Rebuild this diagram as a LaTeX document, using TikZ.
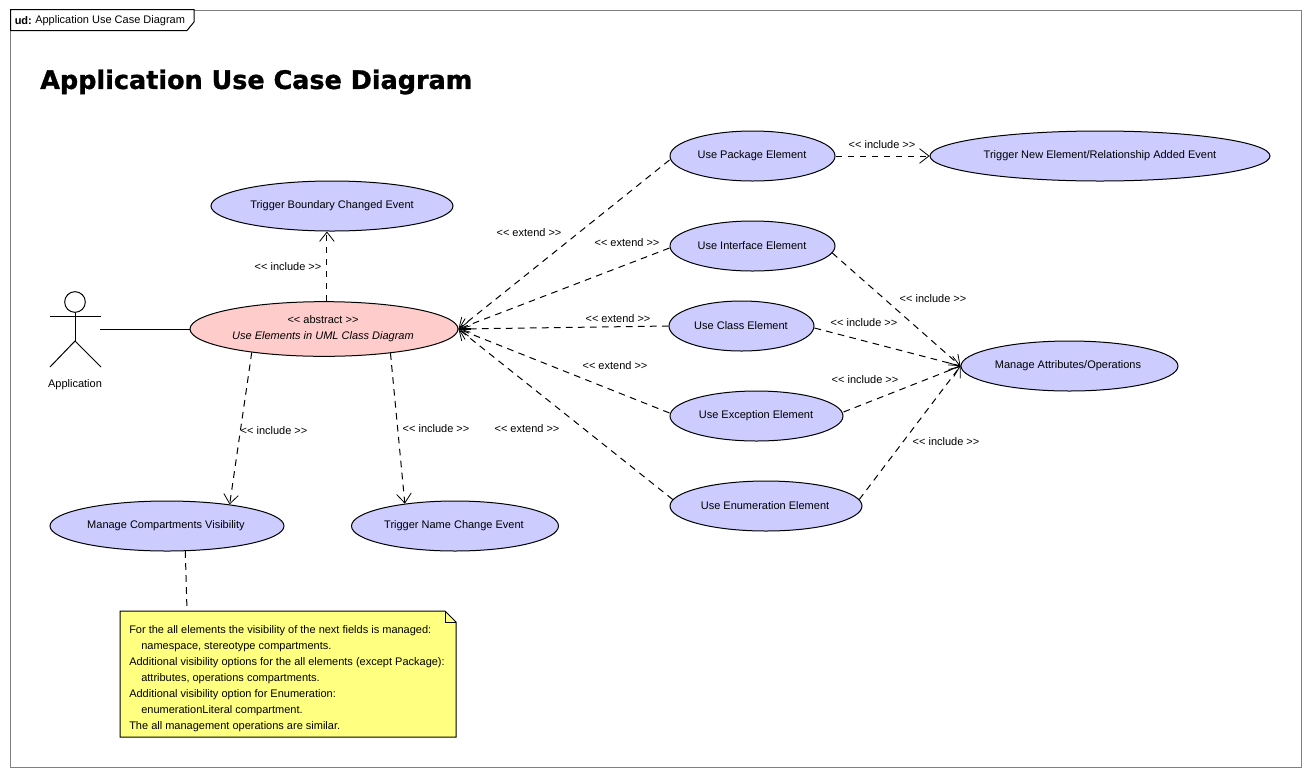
\documentclass[tikz,border=0pt]{standalone}
\usepackage{fontspec}
\usetikzlibrary{shapes.geometric,arrows.meta}
\newfontfamily\uifont{Liberation Sans}
\newfontfamily\titlefont[FakeBold=1.2]{DejaVu Sans Bold}
\definecolor{ucblue}{HTML}{CCCCFF}
\definecolor{ucpink}{HTML}{FFCCCC}
\definecolor{notey}{HTML}{FFFF80}
\definecolor{framegray}{HTML}{808080}
\tikzset{
 x=0.75pt,y=-0.75pt,
 every node/.style={font=\uifont\fontsize{8.25pt}{10pt}\selectfont,text=black},
 uc/.style={ellipse,draw=black,line width=0.75pt,fill=ucblue,inner sep=0pt,minimum height=37.5pt},
 lbl/.style={inner sep=0pt,yshift=-0.75pt},
 notetext/.style={inner sep=0pt,anchor=west,yshift=-1.2pt},
 dep/.style={draw=black,line width=0.75pt,dash pattern=on 5pt off 4pt,-{Straight Barb[length=7pt,width=11pt,line width=0.6pt]}},
 noteline/.style={draw=black,line width=0.75pt,dash pattern=on 5pt off 4pt},
 solidline/.style={draw=black,line width=0.75pt},
}
\begin{document}
\begin{tikzpicture}
\useasboundingbox (0,0) rectangle (1311,776);
\fill[white] (0,0) rectangle (1311,776);
\draw[framegray,line width=0.75pt] (10.5,10.5) rectangle (1301,767);
% frame tab
\draw[solidline,fill=white] (10.5,9.5) -- (194,9.5) -- (194,22) -- (187,30.5) -- (10.5,30.5) -- cycle;
\node[lbl,anchor=west] (tabk) at (14.5,20) {\textbf{ud:}};
\node[lbl,anchor=west] (tabn) at (35,20) {Application Use Case Diagram};
\node[inner sep=0pt,anchor=west,font=\titlefont\fontsize{19.1pt}{22pt}\selectfont] (title) at (40,82) {Application Use Case Diagram};
% actor
\node[circle,draw=black,line width=0.75pt,minimum size=15.5pt,inner sep=0pt] (head) at (75,302) {};
\coordinate (armL) at (50,316);
\coordinate (armR) at (101,316);
\coordinate (hip) at (75,341);
\coordinate (legL) at (50,367);
\coordinate (legR) at (101,367);
\coordinate (actorR) at (100,329);
\draw[solidline] (head.south) -- (hip);
\draw[solidline] (armL) -- (armR);
\draw[solidline] (legL) -- (hip) -- (legR);
\node[lbl] (actorlbl) at (75,384) {Application};
% use cases
\node[uc,minimum width=181.5pt] (boundary) at (332,206) {};
\node[uc,fill=ucpink,minimum width=201pt,minimum height=41pt] (abs) at (324,329) {};
\node[uc,minimum width=175.5pt] (comp) at (167,526) {};
\node[uc,minimum width=155.25pt] (tname) at (455,526) {};
\node[uc,minimum width=123.75pt] (pkg) at (752.5,156) {};
\node[uc,minimum width=255pt] (tnew) at (1100,156) {};
\node[uc,minimum width=123.75pt] (iface) at (752.5,246) {};
\node[uc,minimum width=108.75pt] (cls) at (741.5,326) {};
\node[uc,minimum width=129.75pt] (exc) at (756.5,416) {};
\node[uc,minimum width=144pt] (enum) at (766,506) {};
\node[uc,minimum width=162.75pt] (manage) at (1069.5,366) {};
% use case texts
\node[lbl] (tboundary) at (332,205) {Trigger Boundary Changed Event};
\node[lbl] (tabs1) at (323,319) {<< abstract >>};
\node[lbl] (tabs2) at (323,336) {\itshape Use Elements in UML Class Diagram};
\node[lbl] (tcomp) at (166,525) {Manage Compartments Visibility};
\node[lbl] (ttname) at (454,525) {Trigger Name Change Event};
\node[lbl] (tpkg) at (752,155) {Use Package Element};
\node[lbl] (ttnew) at (1100,155) {Trigger New Element/Relationship Added Event};
\node[lbl] (tiface) at (752,245) {Use Interface Element};
\node[lbl] (tcls) at (741,325) {Use Class Element};
\node[lbl] (texc) at (756,415) {Use Exception Element};
\node[lbl] (tenum) at (765,505) {Use Enumeration Element};
\node[lbl] (tmanage) at (1068,365) {Manage Attributes/Operations};
% note
\node[draw=none,minimum width=252pt,minimum height=94.5pt,inner sep=0pt] (note) at (288,674) {};
\draw[solidline,fill=notey] (120,611) -- (445,611) -- (456,622) -- (456,737) -- (120,737) -- cycle;
\draw[solidline] (445,611) -- (445,622) -- (456,622);
\foreach \n/\x/\y/\t in {
 n1/129/629/{For the all elements the visibility of the next fields is managed:},
 n2/141/645/{namespace, stereotype compartments.},
 n3/129/661/{Additional visibility options for the all elements (except Package):},
 n4/141/677/{attributes, operations compartments.},
 n5/129/693/{Additional visibility option for Enumeration:},
 n6/141/709/{enumerationLiteral compartment.},
 n7/129/725/{The all management operations are similar.}}
 \node[notetext] (\n) at (\x,\y) {\t};
% connectors
\draw[solidline] (actorR) -- (abs.west);
\draw[dep] (abs.84) -- (boundary.south -| abs.84);
\draw[dep] (abs.198) -- (comp.19);
\draw[dep] (abs.340) -- (tname.156);
\draw[dep] (pkg.east) -- (tnew.west);
\draw[dep] (pkg.west) ++(0,4) -- (abs.east);
\draw[dep] (iface.west) ++(0,2) -- (abs.east);
\draw[dep] (cls.west) -- (abs.east);
\draw[dep] (exc.west) ++(0,-3) -- (abs.east);
\draw[dep] (enum.176) -- (abs.east);
\draw[dep] (iface.355) -- (manage.west);
\draw[dep] (cls.east) ++(0,2) -- (manage.west);
\draw[dep] (exc.east) ++(0,-4) -- (manage.west);
\draw[dep] (enum.4) -- (manage.west);
\draw[noteline] (comp.306) -- (note.north -| 187,611);
% connector labels
\foreach \n/\x/\y in {e1/529/232,e2/627/242,e3/618/318,e4/615/365,e5/527/428}
 \node[lbl] (\n) at (\x,\y) {<< extend >>};
\foreach \n/\x/\y in {i1/288/266,i2/274/430,i3/436/428,i4/882/144,i5/933/298,i6/864/322,i7/865/379,i8/946/441}
 \node[lbl] (\n) at (\x,\y) {<< include >>};
\end{tikzpicture}
\end{document}
